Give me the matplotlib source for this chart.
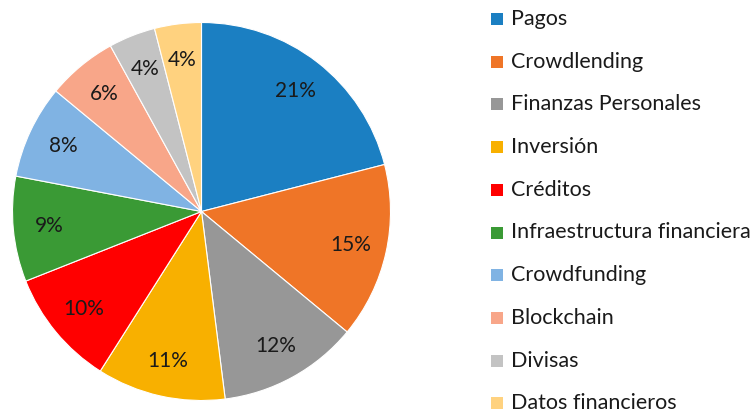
import matplotlib
matplotlib.use("Agg")
import matplotlib.pyplot as plt
from matplotlib.patches import Rectangle

categories = ["Pagos", "Crowdlending", "Finanzas Personales", "Inversión", "Créditos",
              "Infraestructura financiera", "Crowdfunding", "Blockchain", "Divisas",
              "Datos financieros"]
values = [21, 15, 12, 11, 10, 9, 8, 6, 4, 4]
colors = ["#1B7FC2", "#EF7527", "#979797", "#F8B000", "#FF0000",
          "#3A9A35", "#80B3E3", "#F8A689", "#C3C3C3", "#FFD27F"]

plt.rcParams['font.family'] = ['Lato', 'DejaVu Sans']

W, H = 756, 416
fig = plt.figure(figsize=(W / 100, H / 100), dpi=100)
cx, cy, r = 201.5, 211.5, 189
ax = fig.add_axes([(cx - r) / W, 1 - (cy + r) / H, 2 * r / W, 2 * r / H])
wedges, texts, autotexts = ax.pie(values, colors=colors, startangle=90, counterclock=False,
                                  autopct=lambda p: f"{p:.0f}%", pctdistance=0.81,
                                  wedgeprops=dict(edgecolor="white", linewidth=0.8),
                                  textprops=dict(fontsize=15, color="#1a1a1a"))
ax.set_xlim(-1, 1)
ax.set_ylim(-1, 1)
ax.set_aspect("equal")
ax.axis("off")

y0, dy = 19, 42.7
for i, (lab, col) in enumerate(zip(categories, colors)):
    yc = y0 + i * dy
    fig.patches.append(Rectangle((491 / W, 1 - (yc + 6) / H), 12 / W, 12 / H,
                                 transform=fig.transFigure, facecolor=col, edgecolor="none"))
    fig.text(511 / W, 1 - yc / H, lab, fontsize=15.5, color="#1a1a1a", va="center", ha="left")

fig.savefig("out.png", dpi=100)
